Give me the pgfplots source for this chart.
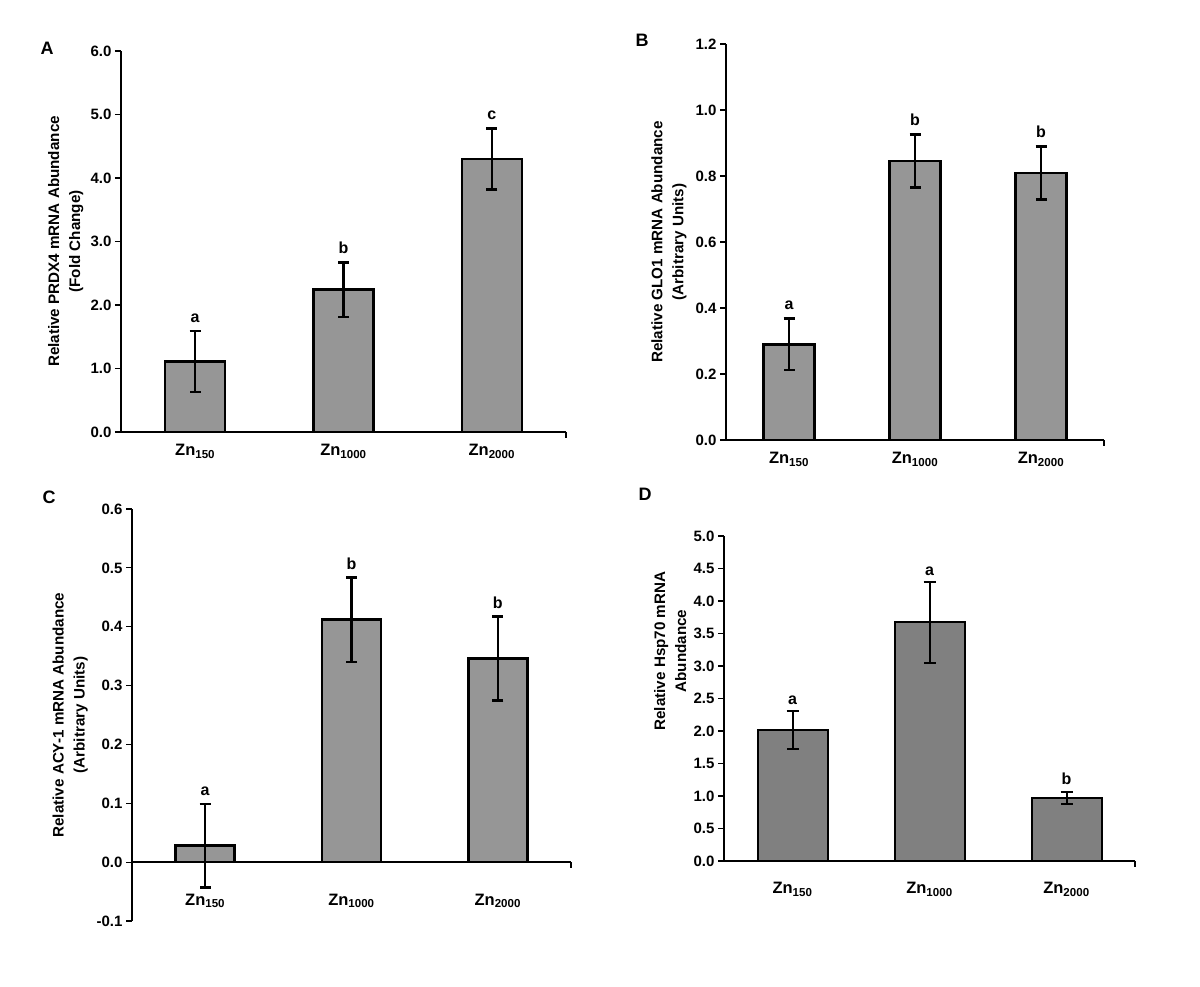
\documentclass[border=0pt]{standalone}
\usepackage{fontspec}
\setmainfont{Liberation Sans}
\usepackage{pgfplots}
\pgfplotsset{compat=1.18}
\definecolor{barlight}{RGB}{150,150,150}
\definecolor{bardark}{RGB}{128,128,128}
\newcommand{\tfont}{\fontsize{15}{17}\selectfont\bfseries}
\tikzset{lett/.style={font=\fontsize{16}{18}\selectfont\bfseries, anchor=base, inner sep=0pt},
  plet/.style={font=\fontsize{18}{20}\selectfont\bfseries}}
\pgfplotsset{
  panel/.style={
    scale only axis,
    anchor=south west,
    axis y line*=left,
    xmin=0.5, xmax=3.5,
    xtick={1,2,3},
    xticklabels={Zn\textsubscript{150},Zn\textsubscript{1000},Zn\textsubscript{2000}},
    x tick style={draw=none},
    y tick style={black, line width=1.2pt},
    tick align=outside,
    major tick length=6pt,
    axis line style={line width=1.3pt},
    tick label style={font=\tfont},
    xticklabel style={font=\fontsize{16.5}{18}\selectfont\bfseries},
    /pgf/number format/assume math mode=true,
    yticklabel style={/pgf/number format/fixed, /pgf/number format/fixed zerofill, /pgf/number format/precision=1},
    ylabel style={font=\fontsize{15.2}{21}\selectfont\bfseries, align=center, anchor=center},
    ybar, bar shift=0pt,
    clip=false,
    hide obscured x ticks=false,
    hide obscured y ticks=false,
  },
  thickbars/.style={
    fill=barlight, draw=black, line width=2.6pt,
    error bars/.cd, y dir=both, y explicit,
    error bar style={line width=2.6pt, black},
    error mark options={rotate=90, mark size=5.5pt, line width=2.6pt, black},
  },
  thinbars/.style={
    fill=bardark, draw=black, line width=2pt,
    error bars/.cd, y dir=both, y explicit,
    error bar style={line width=2pt, black},
    error mark options={rotate=90, mark size=6pt, line width=2pt, black},
  },
}
\begin{document}
\begin{tikzpicture}
\path[use as bounding box] (0pt,0pt) rectangle (1200pt,987pt);
\node[plet] at (47pt,939pt) {A};
\node[plet] at (642pt,947pt) {B};
\node[plet] at (49pt,490pt) {C};
\node[plet] at (645pt,493pt) {D};

% Panel A
\begin{axis}[panel, at={(121pt,555pt)}, width=445pt, height=381pt,
  axis x line*=bottom,
  ymin=0, ymax=6, ytick={0,1,2,3,4,5,6},
  bar width=60pt,
  xticklabel style={yshift=-3pt},
  ylabel={Relative PRDX4 mRNA Abundance\\(Fold Change)},
  ylabel style={at={(axis description cs:-0.124,0.5)}}]
\addplot[thickbars] coordinates {(1,1.11) +- (0,0.48) (2,2.24) +- (0,0.43) (3,4.30) +- (0,0.48)};
\draw[line width=1.3pt] (axis cs:3.5,0) -- ([yshift=-6pt]axis cs:3.5,0);
\node[lett, yshift=9pt] at (axis cs:1,1.59) {a};
\node[lett, yshift=9pt] at (axis cs:2,2.67) {b};
\node[lett, yshift=9pt] at (axis cs:3,4.78) {c};
\end{axis}

% Panel B
\begin{axis}[panel, at={(726pt,547pt)}, width=378pt, height=396pt,
  axis x line*=bottom,
  ymin=0, ymax=1.2, ytick={0,0.2,0.4,0.6,0.8,1.0,1.2},
  bar width=51pt,
  xticklabel style={yshift=-3pt},
  ylabel={Relative GLO1 mRNA Abundance\\(Arbitrary Units)},
  ylabel style={at={(axis description cs:-0.151,0.5)}}]
\addplot[thickbars] coordinates {(1,0.290) +- (0,0.078) (2,0.845) +- (0,0.080) (3,0.809) +- (0,0.080)};
\draw[line width=1.3pt] (axis cs:3.5,0) -- ([yshift=-6pt]axis cs:3.5,0);
\node[lett, yshift=9pt] at (axis cs:1,0.368) {a};
\node[lett, yshift=9pt] at (axis cs:2,0.925) {b};
\node[lett, yshift=9pt] at (axis cs:3,0.889) {b};
\end{axis}

% Panel C
\begin{axis}[panel, at={(132pt,66pt)}, width=439pt, height=412pt,
  axis x line*=middle,
  ymin=-0.1, ymax=0.6, ytick={-0.1,0,0.1,0.2,0.3,0.4,0.5,0.6},
  bar width=59pt,
  xticklabel style={yshift=-22pt},
  ylabel={Relative ACY-1 mRNA Abundance\\(Arbitrary Units)},
  ylabel style={at={(axis description cs:-0.141,0.5)}}]
\addplot[thickbars] coordinates {(1,0.028) +- (0,0.071) (2,0.412) +- (0,0.072) (3,0.346) +- (0,0.071)};
\draw[line width=1.3pt] (axis cs:3.5,0) -- ([yshift=-6pt]axis cs:3.5,0);
\node[lett, yshift=8pt] at (axis cs:1,0.099) {a};
\node[lett, yshift=8pt] at (axis cs:2,0.484) {b};
\node[lett, yshift=8pt] at (axis cs:3,0.417) {b};
\end{axis}

% Panel D
\begin{axis}[panel, at={(724pt,126pt)}, width=411pt, height=325pt,
  axis x line*=bottom,
  ymin=0, ymax=5, ytick={0,0.5,1,1.5,2,2.5,3,3.5,4,4.5,5},
  bar width=70pt,
  xticklabel style={yshift=-12pt},
  ylabel={Relative Hsp70 mRNA\\Abundance},
  ylabel style={at={(axis description cs:-0.131,0.646)}}]
\addplot[thinbars] coordinates {(1,2.01) +- (0,0.29) (2,3.67) +- (0,0.62) (3,0.97) +- (0,0.095)};
\draw[line width=1.3pt] (axis cs:3.5,0) -- ([yshift=-6pt]axis cs:3.5,0);
\node[lett, yshift=7pt] at (axis cs:1,2.30) {a};
\node[lett, yshift=7pt] at (axis cs:2,4.29) {a};
\node[lett, yshift=7pt] at (axis cs:3,1.065) {b};
\end{axis}
\end{tikzpicture}
\end{document}
